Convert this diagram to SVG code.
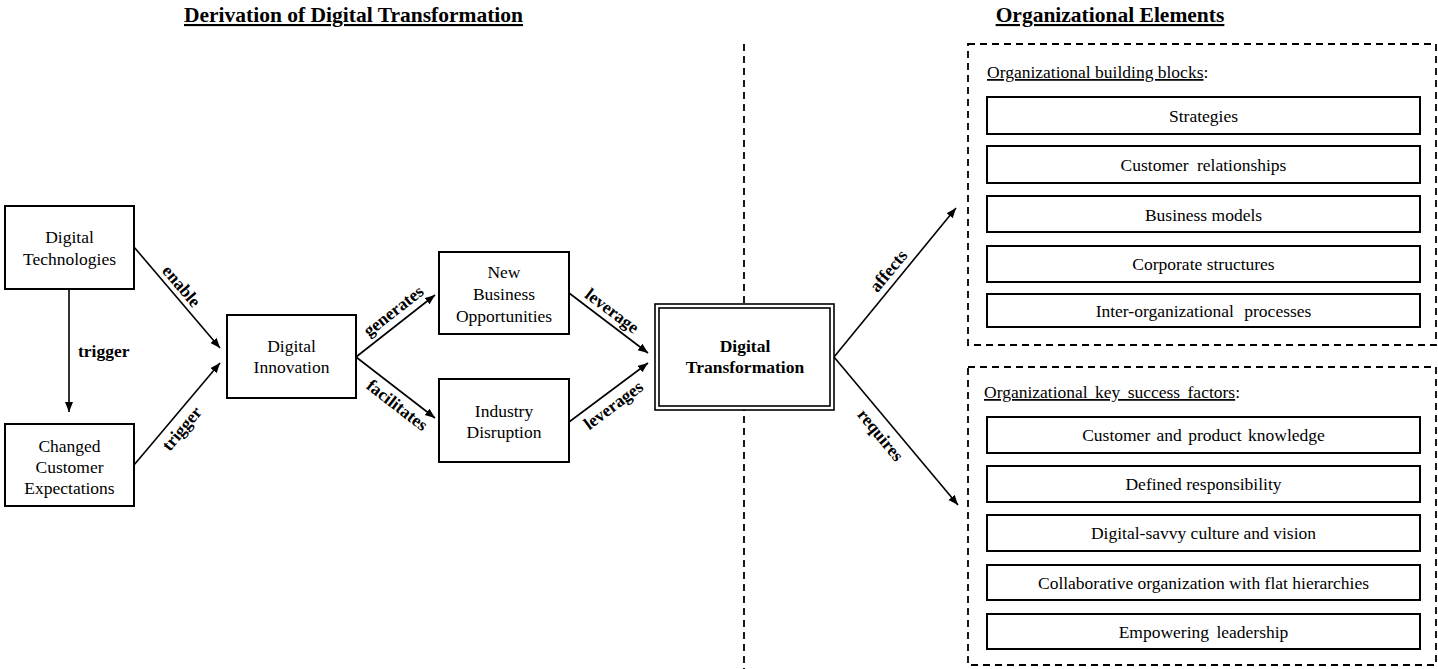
<svg xmlns="http://www.w3.org/2000/svg" width="1438" height="669" viewBox="0 0 1438 669">
<defs>
<marker id="ah" markerUnits="userSpaceOnUse" markerWidth="11" markerHeight="9" refX="10" refY="4" orient="auto">
<path d="M0,0 L10,4 L0,8 z" fill="#000"/>
</marker>
<style>
text{font-family:"Liberation Serif","Times New Roman",serif;font-size:17.5px;fill:#000}
.hdr{font-size:21.5px;font-weight:bold;text-decoration:underline;text-anchor:middle}
.node{fill:#fff;stroke:#000;stroke-width:2}
.c{text-anchor:middle}
.b{font-weight:bold}
.lbl{font-weight:bold;text-anchor:middle}
.conn{stroke:#000;stroke-width:1.6;fill:none;marker-end:url(#ah)}
.dash{stroke:#000;stroke-width:1.8;fill:none;stroke-dasharray:7,5}
.item{fill:#fff;stroke:#000;stroke-width:2}
.u{text-decoration:underline}
</style>
</defs>
<rect width="1438" height="669" fill="#fff"/>

<text class="hdr" x="353.5" y="22">Derivation of Digital Transformation</text>
<text class="hdr" x="1110" y="22">Organizational Elements</text>

<line class="dash" x1="744" y1="44" x2="744" y2="669"/>

<g id="connectors">
<line class="conn" x1="69" y1="289" x2="69" y2="412"/>
<line class="conn" x1="134" y1="247" x2="220" y2="348"/>
<line class="conn" x1="134" y1="465" x2="220" y2="363"/>
<line class="conn" x1="356" y1="357" x2="435" y2="295"/>
<line class="conn" x1="356" y1="357" x2="435" y2="418"/>
<line class="conn" x1="569" y1="293" x2="648" y2="353"/>
<line class="conn" x1="569" y1="422" x2="648" y2="363"/>
<line class="conn" x1="834" y1="357" x2="956" y2="208"/>
<line class="conn" x1="834" y1="357" x2="958" y2="505"/>
<text class="b" x="78" y="357">trigger</text>
<text class="lbl" transform="translate(181.7,286) rotate(49.6)" y="6">enable</text>
<text class="lbl" transform="translate(181.7,428.3) rotate(-50)" y="6">trigger</text>
<text class="lbl" transform="translate(393.3,310.7) rotate(-38)" y="6">generates</text>
<text class="lbl" transform="translate(397.3,405) rotate(37.7)" y="6">facilitates</text>
<text class="lbl" transform="translate(612.3,310.7) rotate(37)" y="6">leverage</text>
<text class="lbl" transform="translate(613.3,405) rotate(-36.7)" y="6">leverages</text>
<text class="lbl" transform="translate(888.3,270.7) rotate(-50.6)" y="6">affects</text>
<text class="lbl" transform="translate(880.7,435) rotate(50.7)" y="6">requires</text>
</g>

<g id="digital-technologies">
<rect class="node" x="5" y="206" width="129" height="83"/>
<text class="c" x="69.5" y="243">Digital</text>
<text class="c" x="69.5" y="265">Technologies</text>
</g>

<g id="changed-customer-expectations">
<rect class="node" x="5" y="424" width="129" height="82"/>
<text class="c" x="69.5" y="452">Changed</text>
<text class="c" x="69.5" y="473">Customer</text>
<text class="c" x="69.5" y="494">Expectations</text>
</g>

<g id="digital-innovation">
<rect class="node" x="227" y="315" width="129" height="83"/>
<text class="c" x="291.5" y="352">Digital</text>
<text class="c" x="291.5" y="373">Innovation</text>
</g>

<g id="new-business-opportunities">
<rect class="node" x="439" y="252" width="130" height="82"/>
<text class="c" x="504" y="278">New</text>
<text class="c" x="504" y="300">Business</text>
<text class="c" x="504" y="322">Opportunities</text>
</g>

<g id="industry-disruption">
<rect class="node" x="439" y="379" width="130" height="83"/>
<text class="c" x="504" y="417">Industry</text>
<text class="c" x="504" y="438">Disruption</text>
</g>

<g id="digital-transformation">
<rect x="655" y="304" width="179" height="106" fill="#fff" stroke="#000" stroke-width="1.6"/>
<rect x="659" y="308" width="171" height="98" fill="none" stroke="#000" stroke-width="1.6"/>
<text class="c b" x="745" y="352">Digital</text>
<text class="c b" x="745" y="373">Transformation</text>
</g>

<g id="building-blocks">
<rect class="dash" x="968" y="44" width="468" height="301"/>
<text x="987" y="78"><tspan class="u">Organizational  building blocks</tspan>:</text>
<g id="strategies"><rect class="item" x="987" y="97" width="433" height="37"/><text class="c" x="1203.5" y="122">Strategies</text></g>
<g id="customer-relationships"><rect class="item" x="987" y="146" width="433" height="37"/><text class="c" x="1203.5" y="171" word-spacing="4">Customer relationships</text></g>
<g id="business-models"><rect class="item" x="987" y="196" width="433" height="36"/><text class="c" x="1203.5" y="221">Business models</text></g>
<g id="corporate-structures"><rect class="item" x="987" y="246" width="433" height="36"/><text class="c" x="1203.5" y="270">Corporate structures</text></g>
<g id="inter-org-processes"><rect class="item" x="987" y="294" width="433" height="33"/><text class="c" x="1203.5" y="317" word-spacing="6">Inter-organizational processes</text></g>
</g>

<g id="key-success-factors">
<rect class="dash" x="968" y="367" width="468" height="298"/>
<text x="984" y="398"><tspan class="u" word-spacing="3">Organizational key success factors</tspan>:</text>
<g id="customer-product-knowledge"><rect class="item" x="987" y="417" width="433" height="36"/><text class="c" x="1203.5" y="441" word-spacing="2">Customer and product knowledge</text></g>
<g id="defined-responsibility"><rect class="item" x="987" y="466" width="433" height="36"/><text class="c" x="1203.5" y="490">Defined responsibility</text></g>
<g id="digital-savvy-culture"><rect class="item" x="987" y="515" width="433" height="36"/><text class="c" x="1203.5" y="539">Digital-savvy culture and vision</text></g>
<g id="collaborative-organization"><rect class="item" x="987" y="565" width="433" height="35"/><text class="c" x="1203.5" y="589">Collaborative organization with flat hierarchies</text></g>
<g id="empowering-leadership"><rect class="item" x="987" y="614" width="433" height="35"/><text class="c" x="1203.5" y="638" word-spacing="3">Empowering leadership</text></g>
</g>
</svg>
